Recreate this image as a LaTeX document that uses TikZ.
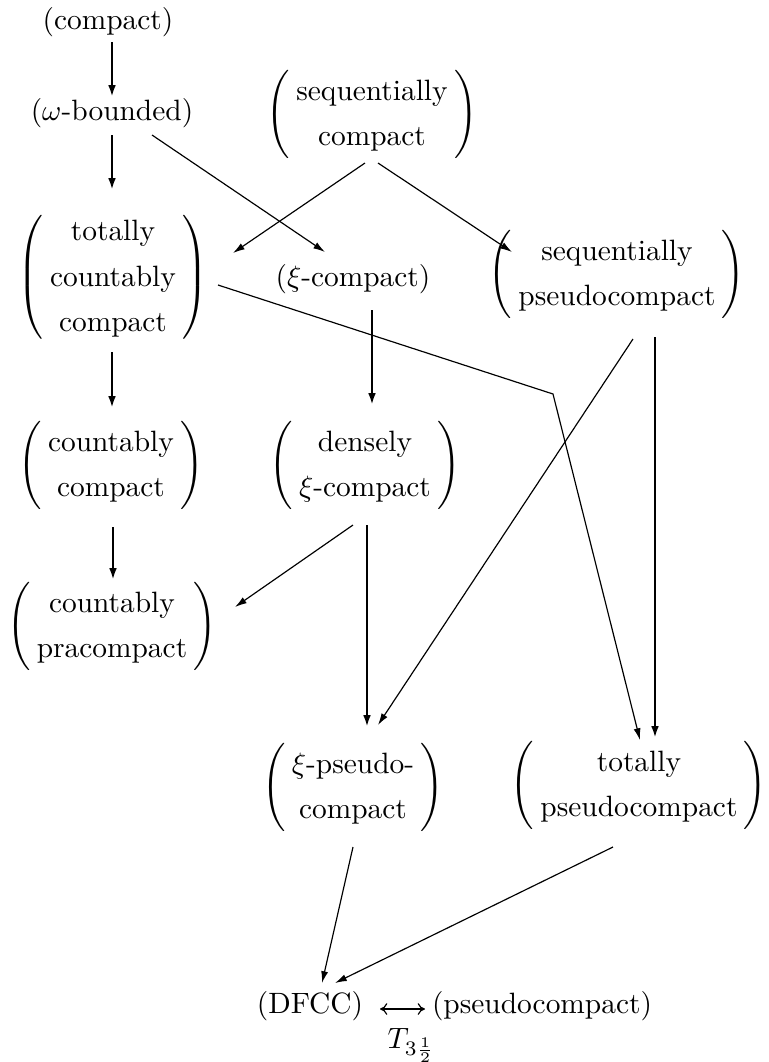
\documentclass[tikz,border=0pt]{standalone}
\usetikzlibrary{arrows.meta,calc}
\renewcommand\arraystretch{1.28}
\newcommand\pp[1]{$\left(\begin{tabular}{@{\hspace{2.2pt}}c@{\hspace{2.2pt}}}#1\end{tabular}\right)$}
\begin{document}
\begin{tikzpicture}[x=0.34pt,y=-0.34pt,
  lbl/.style={inner sep=0pt,outer sep=0pt},
  thinarr/.style={line width=0.4pt,-{Latex[length=4pt,width=2.4pt]}},
  thickarr/.style={line width=0.8pt,-{Latex[length=4pt,width=2.6pt]}},
  thinline/.style={line width=0.4pt}]
\useasboundingbox (0,0) rectangle (769,1062);
% nodes
\node[lbl] (comp) at (108,22) {(compact)};
\node[lbl] (wb) at (112,113) {($\omega$-bounded)};
\node[lbl] (seqc) at (372,114) {\pp{sequentially\\compact}};
\node[lbl] (tcc) at (113,277) {\pp{totally\\countably\\compact}};
\node[lbl] (xic) at (353,279) {($\xi$-compact)};
\node[lbl] (seqp) at (617,274) {\pp{sequentially\\pseudocompact}};
\node[lbl] (cc) at (111,465) {\pp{countably\\compact}};
\node[lbl] (dxc) at (365,465) {\pp{densely\\$\xi$-compact}};
\node[lbl] (cpc) at (112,626) {\pp{countably\\pracompact}};
\node[lbl] (xpc) at (353,787) {\pp{$\xi$-pseudo-\\compact}};
\node[lbl] (tpc) at (639,785) {\pp{totally\\pseudocompact}};
\node[lbl,anchor=base] (dfcc) at (310,1013) {(DFCC)};
\node[lbl,anchor=base] (pcn) at (542,1013) {(pseudocompact)};
\coordinate (bend) at (553,394);
% connectors
\draw[thickarr] ($(comp.center)+(4,20)$) -- ($(wb.center)+(0,-16)$);
\draw[thickarr] ($(wb.center)+(0,22)$) -- ($(tcc.center)+(-1,-87)$);
\draw[thinarr] ($(wb.center)+(40,22)$) -- ($(xic.center)+(-28,-27)$);
\draw[thinarr] ($(seqc.center)+(-7,49)$) -- ($(tcc.center)+(120,-24)$);
\draw[thinarr] ($(seqc.center)+(6,49)$) -- ($(seqp.center)+(-105,-22)$);
\draw[thinarr] ($(tcc.center)+(105,8)$) -- (bend) -- ($(tpc.center)+(1,-45)$);
\draw[thickarr] ($(tcc.center)+(-1,75)$) -- ($(cc.center)+(1,-57)$);
\draw[thickarr] ($(xic.center)+(19,31)$) -- ($(dxc.center)+(7,-60)$);
\draw[thickarr] ($(seqp.center)+(38,63)$) -- ($(tpc.center)+(16,-47)$);
\draw[thinarr] ($(seqp.center)+(16,65)$) -- ($(xpc.center)+(25,-62)$);
\draw[thickarr] ($(cc.center)+(2,62)$) -- ($(cpc.center)+(1,-46)$);
\draw[thinarr] ($(dxc.center)+(-12,60)$) -- ($(cpc.center)+(123,-19)$);
\draw[thickarr] ($(dxc.center)+(2,60)$) -- ($(xpc.center)+(14,-60)$);
\draw[thinarr] ($(xpc.center)+(0,60)$) -- ($(dfcc.base)+(12,-30)$);
\draw[thinarr] ($(tpc.center)+(-26,62)$) -- ($(dfcc.base)+(25,-30)$);
\draw[line width=0.4pt,{Computer Modern Rightarrow[length=2.5pt,width=4pt]}-{Computer Modern Rightarrow[length=2.5pt,width=4pt]}]
  ($(dfcc.base)+(70,-4)$) -- ($(pcn.base)+(-117,-4)$)
  node[lbl,midway,anchor=north,yshift=-6.5pt,xshift=3pt] (tl) {$T_{3\frac{1}{2}}$};
\end{tikzpicture}
\end{document}
